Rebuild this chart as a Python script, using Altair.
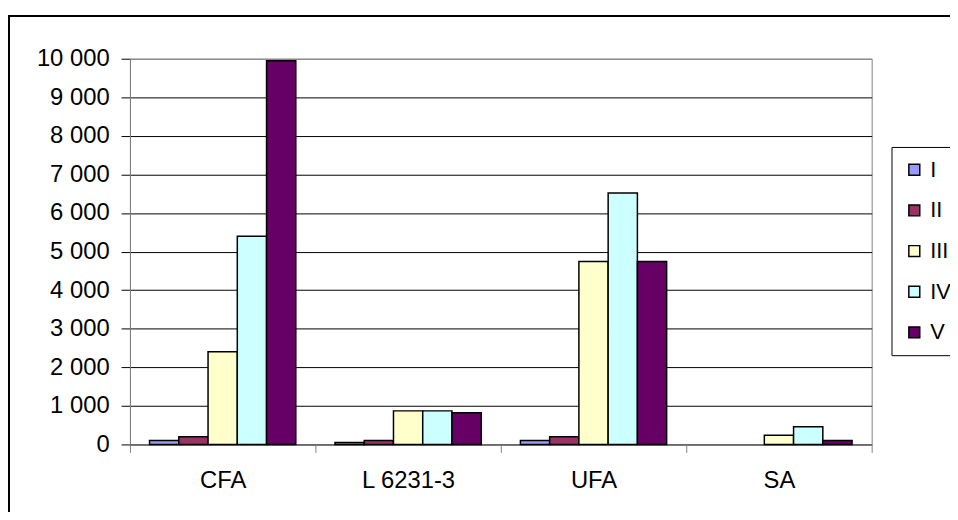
import altair as alt
import pandas as pd

categories = ["CFA", "L 6231-3", "UFA", "SA"]
series = ["I", "II", "III", "IV", "V"]
values_I = [100, 50, 100, 0]
values_II = [200, 100, 200, 0]
values_III = [2400, 870, 4740, 240]
values_IV = [5400, 870, 6520, 460]
values_V = [9950, 820, 4740, 100]
y_ticks = [0, 1000, 2000, 3000, 4000, 5000, 6000, 7000, 8000, 9000, 10000]
colors = ["#9999FF", "#993366", "#FFFFCC", "#CCFFFF", "#660066"]

rows = []
for s, vals in zip(series, [values_I, values_II, values_III, values_IV, values_V]):
    for c, v in zip(categories, vals):
        rows.append({"category": c, "series": s, "value": v})
df = pd.DataFrame(rows)

FONT = "Liberation Sans"

bars = alt.Chart(df).transform_filter("datum.value > 0").mark_bar(
    stroke="black", strokeWidth=1.5
).encode(
    x=alt.X(
        "category:N", sort=categories,
        scale=alt.Scale(paddingInner=0, paddingOuter=0),
        axis=alt.Axis(title=None, labelAngle=0, tickBand="extent", ticks=True, tickSize=8,
                      labelPadding=16, domainColor="#808080", tickColor="#808080",
                      labelFontSize=24, labelFont=FONT, labelColor="black", grid=False),
    ),
    xOffset=alt.XOffset("series:N", sort=series,
                        scale=alt.Scale(paddingInner=0, paddingOuter=0.67)),
    y=alt.Y(
        "value:Q",
        scale=alt.Scale(domain=[0, 10000], nice=False),
        axis=alt.Axis(values=y_ticks, title=None, grid=True,
                      gridColor={"condition": {"test": "datum.value === 10000", "value": "#808080"}, "value": "black"},
                      labelExpr="replace(format(datum.value, ','), ',', ' ')",
                      tickSize=9, labelPadding=12, tickColor="black", domainColor="#808080",
                      labelFontSize=24, labelFont=FONT, labelColor="black"),
    ),
    color=alt.Color(
        "series:N", sort=series,
        scale=alt.Scale(domain=series, range=colors),
        legend=alt.Legend(title=None, orient="none", legendX=768, legendY=89,
                          symbolType="square", symbolSize=121, symbolStrokeColor="black",
                          symbolStrokeWidth=1.5, symbolOpacity=1,
                          labelFontSize=22, labelFont=FONT, labelColor="black",
                          rowPadding=19, padding=12, labelOffset=5,
                          strokeColor="black", fillColor="white"),
    ),
)

border = alt.Chart(alt.Data(values=[{}])).mark_rect(
    fillOpacity=0, stroke="black", strokeWidth=2
).encode(
    x=alt.value(-122), x2=alt.value(1200), y=alt.value(-43), y2=alt.value(1000)
)

chart = alt.layer(border, bars).properties(
    width=748, height=389,
    autosize="none",
    padding={"left": 123, "top": 49, "right": 79, "bottom": 66},
).configure_view(stroke="#808080")

chart.save("out.html", embed_options={"renderer": "svg", "actions": False})
